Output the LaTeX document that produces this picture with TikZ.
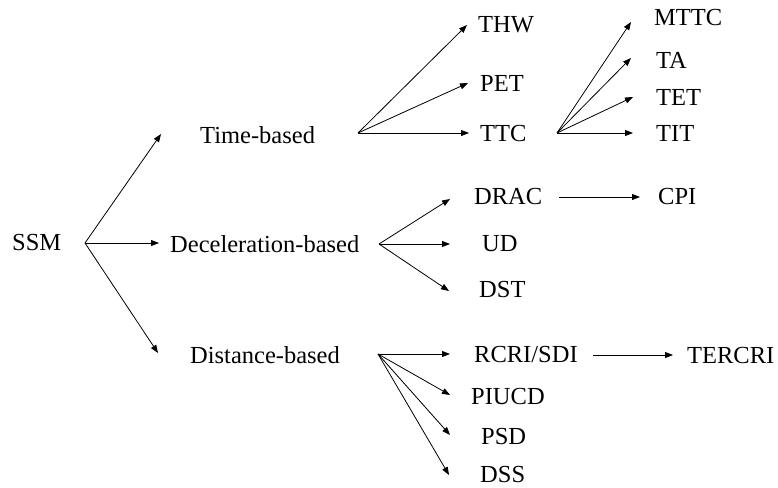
\documentclass[tikz,border=0pt]{standalone}
\usepackage{fontspec}
\setmainfont{Liberation Serif}
\usetikzlibrary{arrows.meta}
\begin{document}
\begin{tikzpicture}[x=1pt,y=-1pt,
  lbl/.style={anchor=west,inner sep=0pt,font=\fontsize{24.5}{28}\selectfont},
  arr/.style={line width=0.8pt,-{Triangle[length=8pt,width=6pt]}}]
\useasboundingbox (0,0) rectangle (778,487);
% nodes
\node[lbl] (ssm) at (12,243) {SSM};
\node[lbl] (time) at (200,135) {Time-based};
\node[lbl] (decel) at (170,244) {Deceleration-based};
\node[lbl] (dist) at (190,355) {Distance-based};
\node[lbl] (thw) at (478,25) {THW};
\node[lbl] (pet) at (480,83) {PET};
\node[lbl] (ttc) at (480,134) {TTC};
\node[lbl] (mttc) at (654,18) {MTTC};
\node[lbl] (ta) at (656,60) {TA};
\node[lbl] (tet) at (656,97) {TET};
\node[lbl] (tit) at (656,133) {TIT};
\node[lbl] (drac) at (474,197) {DRAC};
\node[lbl] (cpi) at (658,197) {CPI};
\node[lbl] (ud) at (482,244) {UD};
\node[lbl] (dst) at (479,290) {DST};
\node[lbl] (rcri) at (474,355) {RCRI/SDI};
\node[lbl] (tercri) at (687,356) {TERCRI};
\node[lbl] (piucd) at (471,397) {PIUCD};
\node[lbl] (psd) at (481,437) {PSD};
\node[lbl] (dss) at (480,475) {DSS};
% fan origins
\coordinate (sfan) at (85,243);
\coordinate (tfan) at (358,133);
\coordinate (cfan) at (557,133);
\coordinate (dfan) at (379,244);
\coordinate (xfan) at (378,354);
% SSM
\draw[arr] (sfan) -- ([xshift=-39pt,yshift=1pt]time.west);
\draw[arr] (sfan) -- ([xshift=-11pt,yshift=1pt]decel.west);
\draw[arr] (sfan) -- ([xshift=-32pt,yshift=2pt]dist.west);
% time-based
\draw[arr] (tfan) -- ([xshift=-11pt]thw.west);
\draw[arr] (tfan) -- ([xshift=-12pt]pet.west);
\draw[arr] (tfan) -- ([xshift=-11pt,yshift=1pt]ttc.west);
% TTC
\draw[arr] (cfan) -- ([xshift=-23pt,yshift=-4pt]mttc.west);
\draw[arr] (cfan) -- ([xshift=-25pt,yshift=2pt]ta.west);
\draw[arr] (cfan) -- ([xshift=-23pt]tet.west);
\draw[arr] (cfan) -- ([xshift=-23pt]tit.west);
% deceleration
\draw[arr] (dfan) -- ([xshift=-24pt,yshift=-2pt]drac.west);
\draw[arr] (dfan) -- ([xshift=-32pt]ud.west);
\draw[arr] (dfan) -- ([xshift=-30pt,yshift=-1pt]dst.west);
\draw[arr,shorten <=17pt,shorten >=18pt] (drac.east) -- (cpi.west |- drac.east);
% distance
\draw[arr] (xfan) -- ([xshift=-24pt,yshift=1pt]rcri.west);
\draw[arr] (xfan) -- ([xshift=-21pt,yshift=2pt]piucd.west);
\draw[arr] (xfan) -- ([xshift=-31pt,yshift=2pt]psd.west);
\draw[arr] (xfan) -- ([xshift=-31pt]dss.west);
\draw[arr,shorten <=15pt,shorten >=14pt] (rcri.east) -- (tercri.west |- rcri.east);
\end{tikzpicture}
\end{document}
